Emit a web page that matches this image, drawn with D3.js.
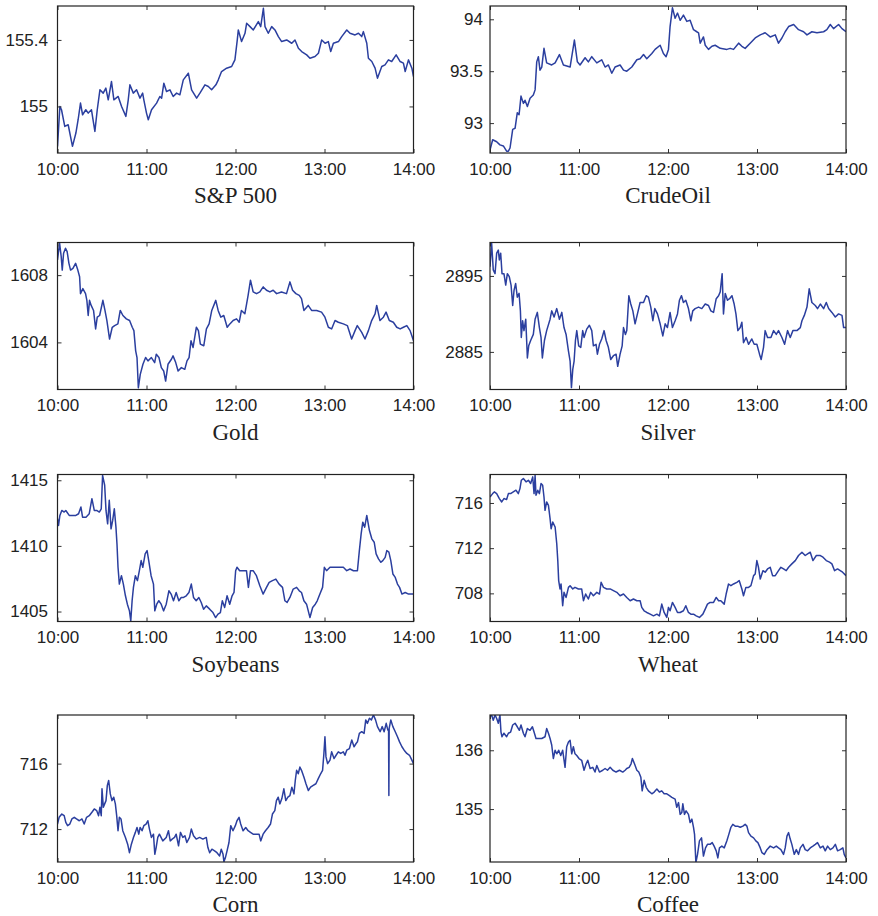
<!DOCTYPE html>
<html lang="en">
<head>
<meta charset="UTF-8">
<title>Intraday prices</title>
<script src="https://d3js.org/d3.v7.min.js"></script>
<style>
    body {
        margin: 0;
        background: #fff;
    }
    .axis text {
        font: 17px 'Liberation Sans', Arial, Helvetica, sans-serif;
        fill: #222;
    }
    .axis line {
        stroke: #333;
    }
    .frame {
        fill: none;
        stroke: #222;
        stroke-width: 1.2;
    }
    .title {
        font: 23px 'Liberation Serif', 'Times New Roman', serif;
        fill: #222;
    }
    .series {
        fill: none;
        stroke: #2b3f9f;
        stroke-width: 1.5;
        stroke-linejoin: round;
    }
</style>
</head>
<body>
<script>
// minutes after 10:00
var hourTicks = [0, 60, 120, 180, 240];
var hourLabels = ["10:00", "11:00", "12:00", "13:00", "14:00"];

var titles = ["S&P 500", "CrudeOil", "Gold", "Silver", "Soybeans", "Wheat", "Corn", "Coffee"];

var yTicks = [
    [155, 155.4],
    [93, 93.5, 94],
    [1604, 1608],
    [2885, 2895],
    [1405, 1410, 1415],
    [708, 712, 716],
    [712, 716],
    [135, 136]
];

var yRanges = [
    [154.72, 155.604],
    [92.712, 94.128],
    [1601.2, 1609.94],
    [2880.05, 2899.4],
    [1404.24, 1415.44],
    [705.51, 718.52],
    [709.99, 718.97],
    [134.1, 136.6]
];

var sp500 = [[0,154.76],[1.6,155.0],[2.7,154.98],[4.9,154.88],[7.2,154.89],[10.1,154.76],[12.4,154.84],[13.9,154.92],
    [15.5,155.02],[16.9,154.95],[19.1,154.98],[20.7,154.96],[22.9,154.98],[25.2,154.85],[26.8,154.98],[28.6,155.10],
    [30.8,155.08],[32.6,155.11],[34.2,155.04],[36.4,155.15],[38.0,155.04],[40.9,155.06],[43.2,155.00],[46.1,154.94],
    [47.7,155.04],[48.8,155.13],[51.1,155.08],[53.3,155.10],[55.6,155.05],[57.4,155.08],[58.2,155.04],[60.0,154.96],
    [61.2,154.92],[63.4,154.98],[66.8,155.02],[69.0,155.06],[70.2,155.05],[71.7,155.14],[73.5,155.09],[75.8,155.10],
    [78.0,155.06],[80.3,155.08],[82.5,155.07],[84.8,155.16],[88.2,155.20],[90.4,155.10],[93.8,155.05],[96.0,155.08],
    [99.4,155.13],[101.7,155.12],[103.9,155.10],[106.8,155.13],[108.4,155.16],[110.6,155.21],[114.0,155.23],[117.4,155.24],
    [118.5,155.26],[119.6,155.28],[121.2,155.40],[121.9,155.46],[124.1,155.39],[126.4,155.44],[127.5,155.50],[129.8,155.48],
    [132.0,155.46],[135.4,155.51],[137.0,155.48],[138.8,155.59],[139.9,155.48],[142.1,155.44],[144.4,155.48],[146.6,155.46],
    [148.9,155.42],[151.1,155.39],[154.5,155.40],[157.9,155.38],[160.1,155.40],[162.4,155.35],[164.6,155.33],[168.0,155.31],
    [170.2,155.29],[173.6,155.30],[175.9,155.32],[178.1,155.40],[180.4,155.38],[182.6,155.39],[184.2,155.33],[186.0,155.38],
    [189.4,155.39],[191.6,155.42],[195.0,155.46],[197.2,155.44],[200.6,155.43],[202.9,155.44],[205.1,155.42],[206.2,155.45],
    [208.5,155.38],[209.6,155.29],[211.9,155.27],[214.1,155.23],[215.7,155.17],[218.6,155.24],[220.8,155.25],[223.1,155.28],
    [225.3,155.27],[228.3,155.31],[231.0,155.27],[233.2,155.26],[234.4,155.21],[236.6,155.28],[238.9,155.23],[240,155.18]];

var crudeOil = [[0,92.74],[1.8,92.84],[4.5,92.82],[6.7,92.79],[9.0,92.78],[11.2,92.73],[12.4,92.73],[13.5,92.76],
    [15.3,92.94],[16.9,92.95],[18.4,93.10],[19.6,93.08],[20.9,93.26],[22.5,93.19],[23.6,93.22],[25.2,93.16],
    [27.0,93.24],[29.2,93.27],[30.4,93.32],[31.5,93.59],[32.6,93.64],[33.7,93.51],[34.9,93.54],[36.4,93.72],
    [38.2,93.58],[41.6,93.56],[43.9,93.58],[46.8,93.66],[49.5,93.56],[54.0,93.54],[56.9,93.80],[58.9,93.59],
    [60.7,93.56],[64.1,93.63],[66.3,93.59],[68.6,93.64],[72.0,93.58],[75.3,93.61],[77.6,93.54],[79.8,93.56],
    [82.1,93.48],[84.3,93.54],[87.7,93.56],[90.0,93.51],[92.2,93.50],[95.6,93.54],[99.0,93.61],[101.2,93.62],
    [103.5,93.66],[105.7,93.62],[109.1,93.67],[111.3,93.71],[114.7,93.75],[116.9,93.67],[118.7,93.64],[120.3,93.71],
    [121.4,93.93],[123.0,94.11],[124.8,94.01],[126.4,94.06],[128.2,93.99],[130.4,94.04],[132.7,93.98],[134.9,93.99],
    [137.2,93.90],[139.4,93.88],[140.6,93.87],[141.7,93.77],[143.9,93.83],[145.1,93.75],[147.3,93.71],[149.6,93.74],
    [151.8,93.75],[155.2,93.72],[159.7,93.71],[161.9,93.72],[164.2,93.71],[167.6,93.77],[169.8,93.74],[172.0,93.72],
    [175.4,93.77],[178.8,93.82],[182.2,93.85],[185.5,93.87],[188.9,93.83],[192.3,93.85],[194.5,93.77],[196.8,93.82],
    [199.0,93.88],[201.3,93.93],[204.7,93.95],[208.0,93.90],[211.4,93.88],[213.7,93.85],[217.0,93.88],[220.4,93.87],
    [224.9,93.88],[227.1,93.90],[229.4,93.95],[231.6,93.91],[235.0,93.95],[237.3,93.91],[240,93.88]];

var gold = [[0,1608.9],[1.4,1609.9],[2.5,1609.1],[3.2,1608.3],[4.1,1609.3],[5.4,1609.6],[6.5,1609.4],[7.7,1608.7],
    [8.8,1608.3],[10.4,1608.4],[12.2,1608.7],[13.7,1608.3],[14.9,1607.9],[15.5,1606.9],[17.1,1607.2],[18.9,1606.9],
    [19.8,1606.5],[20.7,1605.6],[21.6,1606.5],[22.7,1606.2],[24.3,1605.9],[25.7,1604.8],[26.8,1605.5],[28.4,1605.6],
    [30.6,1606.5],[32.0,1605.9],[33.3,1605.3],[35.1,1604.2],[36.9,1604.9],[38.5,1605.0],[40.7,1605.1],[42.3,1605.9],
    [44.1,1605.6],[46.4,1605.4],[48.6,1605.3],[50.4,1604.9],[51.5,1604.7],[52.7,1603.5],[53.6,1603.1],[54.5,1601.3],
    [55.8,1602.1],[57.6,1602.7],[59.4,1603.1],[61.0,1602.9],[63.3,1603.1],[65.5,1602.8],[66.6,1603.3],[68.4,1603.1],
    [70.0,1602.5],[71.6,1602.3],[72.9,1601.7],[74.5,1602.7],[76.8,1603.0],[77.9,1603.2],[79.7,1602.8],[81.3,1602.3],
    [83.5,1602.5],[85.8,1602.4],[87.3,1602.9],[88.7,1603.1],[90.0,1604.1],[91.4,1603.7],[93.6,1604.9],[95.0,1604.7],
    [96.3,1603.9],[98.6,1603.8],[100.4,1604.8],[102.2,1605.1],[104.0,1605.9],[106.7,1606.5],[108.3,1605.9],[110.1,1605.5],
    [112.1,1605.6],[114.4,1604.9],[116.2,1605.1],[118.4,1605.3],[120.7,1605.4],[122.5,1605.2],[124.0,1605.9],[126.3,1605.7],
    [128.5,1606.8],[130.1,1607.7],[131.9,1607.0],[134.2,1606.9],[136.4,1607.0],[138.7,1607.3],[140.9,1607.1],[143.2,1607.0],
    [145.4,1607.1],[147.7,1606.9],[151.0,1607.0],[154.4,1606.9],[156.7,1607.6],[158.5,1607.1],[160.7,1606.9],[163.0,1606.8],
    [164.5,1606.6],[166.1,1605.9],[169.0,1606.2],[171.3,1605.9],[174.7,1605.9],[178.0,1605.8],[180.3,1605.5],[182.6,1604.9],
    [184.8,1604.8],[187.1,1605.3],[189.3,1605.2],[192.7,1605.1],[195.4,1605.0],[198.3,1604.2],[200.6,1604.7],[202.1,1605.0],
    [205.1,1604.6],[207.3,1604.2],[209.6,1604.7],[211.8,1605.3],[214.1,1605.7],[215.2,1606.2],[217.4,1605.3],[219.7,1605.5],
    [221.5,1605.8],[223.7,1605.3],[226.4,1605.2],[228.7,1604.9],[231.0,1604.8],[233.2,1604.9],[235.5,1605.0],[237.7,1604.7],
    [240,1604.1]];

var silver = [[0,2896.2],[1.1,2899.3],[2.2,2895.8],[3.4,2895.3],[4.5,2898.0],[5.6,2898.4],[6.3,2897.1],[7.2,2898.0],
    [8.1,2895.3],[9.4,2895.3],[10.6,2893.8],[11.7,2895.3],[13.0,2894.9],[14.2,2893.8],[15.3,2891.1],[16.2,2893.1],
    [17.3,2894.0],[18.4,2892.2],[19.6,2892.7],[20.5,2890.4],[21.1,2886.9],[22.0,2889.1],[22.9,2887.8],[24.1,2889.3],
    [25.2,2884.2],[26.1,2885.8],[27.4,2886.5],[29.2,2887.3],[30.4,2889.3],[31.9,2890.2],[33.3,2888.2],[34.4,2886.9],
    [35.3,2884.2],[36.7,2886.5],[38.2,2887.8],[40.5,2889.3],[41.6,2890.4],[43.2,2889.6],[45.0,2890.7],[46.8,2889.3],
    [48.4,2890.2],[49.9,2888.2],[51.3,2887.3],[52.9,2885.1],[54.0,2883.8],[54.9,2880.3],[55.8,2882.7],[56.7,2883.8],
    [57.6,2886.5],[58.5,2887.8],[59.8,2885.8],[61.2,2885.6],[62.5,2887.8],[63.4,2886.9],[65.2,2888.0],[67.0,2888.5],
    [68.6,2887.8],[69.7,2885.8],[71.5,2886.0],[72.4,2884.7],[73.8,2886.0],[75.3,2886.7],[76.9,2887.8],[78.3,2886.5],
    [79.8,2885.6],[81.4,2884.0],[83.2,2884.5],[85.0,2884.7],[86.1,2883.1],[87.7,2884.7],[89.1,2885.8],[90.0,2888.2],
    [91.3,2887.3],[92.2,2887.8],[93.6,2892.4],[94.9,2891.3],[96.3,2890.4],[97.8,2888.7],[99.4,2890.0],[101.2,2891.5],
    [103.5,2891.5],[105.3,2892.4],[106.8,2892.2],[108.4,2890.9],[109.8,2889.1],[111.1,2890.7],[112.9,2890.0],[114.7,2888.7],
    [116.5,2887.1],[118.1,2888.7],[119.6,2888.2],[121.4,2890.2],[123.0,2888.2],[124.8,2889.1],[126.4,2890.0],[127.7,2891.8],
    [129.1,2892.4],[130.4,2891.5],[132.0,2891.8],[133.8,2890.7],[135.4,2889.1],[136.7,2890.4],[138.3,2890.7],[140.6,2890.9],
    [142.8,2890.7],[145.1,2891.3],[147.3,2891.1],[148.9,2890.4],[150.7,2890.2],[152.5,2892.0],[154.1,2892.4],[155.2,2892.9],
    [156.5,2895.3],[157.4,2890.0],[158.6,2892.7],[160.1,2891.8],[161.5,2892.0],[163.1,2892.4],[164.6,2891.3],[165.8,2890.0],
    [167.1,2887.8],[168.7,2888.2],[169.8,2888.9],[170.9,2886.2],[172.7,2886.9],[174.3,2886.0],[176.5,2886.7],[178.1,2886.0],
    [179.9,2886.0],[181.7,2884.7],[182.8,2884.0],[184.4,2885.6],[185.5,2887.8],[187.1,2886.9],[189.4,2886.9],[191.2,2887.8],
    [193.0,2887.3],[194.5,2887.8],[196.8,2886.9],[198.6,2886.0],[200.6,2887.8],[202.4,2886.9],[204.2,2887.8],[206.9,2887.8],
    [209.2,2888.2],[210.3,2889.1],[211.9,2889.8],[213.7,2890.9],[215.2,2893.3],[217.0,2891.5],[219.3,2891.1],[220.8,2890.7],
    [222.7,2891.3],[224.9,2890.7],[226.7,2891.5],[228.3,2890.7],[230.5,2890.2],[232.8,2889.6],[235.0,2890.0],[237.3,2889.8],
    [238.4,2888.2],[240,2888.2]];

var soybeans = [[0,1412.07],[0.7,1411.56],[1.6,1412.32],[2.9,1412.70],[4.5,1412.58],[5.6,1412.70],[7.9,1412.32],[10.1,1412.32],
    [12.4,1412.32],[14.2,1412.45],[15.8,1412.96],[16.9,1412.19],[19.2,1412.19],[21.4,1412.45],[23.2,1413.60],[24.8,1412.70],
    [26.4,1412.70],[28.2,1412.58],[29.5,1412.83],[30.4,1415.38],[31.8,1414.62],[32.7,1412.70],[33.8,1411.68],[34.9,1413.47],
    [36.1,1411.30],[37.2,1411.94],[38.3,1412.83],[39.4,1411.43],[40.1,1410.15],[40.8,1408.37],[41.7,1407.09],[43.1,1407.73],
    [44.4,1407.09],[45.8,1406.20],[47.1,1405.56],[48.5,1405.05],[49.4,1404.29],[50.3,1405.82],[51.2,1406.84],[52.5,1407.73],
    [53.9,1407.35],[55.2,1408.11],[56.4,1408.88],[57.5,1408.37],[59.1,1409.39],[60.4,1409.64],[61.5,1408.88],[63.1,1407.73],
    [64.7,1407.09],[65.6,1405.05],[66.9,1405.56],[68.3,1405.82],[69.9,1405.56],[71.5,1405.05],[73.3,1405.56],[75.1,1406.58],
    [76.6,1406.33],[78.2,1405.82],[80.0,1406.45],[81.8,1405.82],[83.4,1406.07],[85.0,1406.07],[86.8,1406.20],[88.6,1406.45],
    [90.2,1407.09],[91.7,1406.07],[93.5,1405.82],[95.3,1406.07],[96.9,1405.69],[98.5,1405.18],[100.3,1405.43],[102.6,1405.18],
    [104.8,1404.92],[106.6,1404.54],[108.2,1404.80],[109.8,1404.92],[111.1,1405.82],[112.7,1405.31],[114.3,1406.20],[116.1,1405.56],
    [117.7,1406.20],[119.0,1406.45],[120.1,1408.11],[121.0,1408.37],[122.8,1408.11],[125.1,1408.11],[127.4,1408.11],[128.7,1406.84],
    [130.1,1408.11],[131.9,1408.11],[134.1,1407.73],[136.4,1406.96],[138.6,1406.33],[140.9,1406.84],[142.7,1407.22],[144.9,1407.35],
    [147.2,1407.47],[149.4,1407.09],[151.7,1406.84],[153.3,1405.82],[154.8,1405.69],[156.7,1406.07],[158.9,1406.71],[161.2,1406.84],
    [163.0,1406.58],[164.5,1406.45],[166.1,1405.82],[167.9,1405.56],[170.2,1404.54],[172.0,1405.31],[173.8,1405.56],[175.1,1405.82],
    [176.9,1406.33],[178.7,1406.84],[179.9,1408.37],[181.4,1408.11],[183.7,1408.37],[186.0,1408.37],[188.2,1408.37],[190.5,1408.37],
    [192.7,1408.37],[195.0,1408.11],[197.2,1408.24],[199.5,1408.11],[202.2,1408.11],[203.5,1409.64],[204.7,1410.92],[205.8,1411.81],
    [207.1,1411.43],[208.5,1412.32],[210.3,1411.17],[211.9,1410.54],[213.5,1410.28],[214.8,1409.39],[216.4,1409.01],[218.0,1408.75],
    [219.3,1408.88],[220.9,1409.13],[222.0,1409.64],[223.4,1409.52],[224.7,1408.88],[226.1,1407.86],[227.7,1407.60],[229.2,1407.09],
    [230.6,1406.84],[232.2,1406.33],[234.4,1406.45],[236.7,1406.33],[240,1406.33]];

var wheat = [[0,716.53],[1.8,716.83],[2.9,716.98],[4.5,716.83],[6.3,716.39],[7.9,716.09],[9.4,716.39],[11.2,716.30],
    [12.4,716.83],[13.9,716.83],[15.7,716.98],[17.5,717.13],[19.1,716.83],[20.2,717.27],[21.1,718.01],[22.5,718.16],
    [24.3,717.87],[25.9,718.01],[27.4,717.72],[28.8,718.31],[29.7,716.83],[30.4,718.46],[31.0,716.68],[32.2,717.13],
    [33.3,716.83],[34.4,717.72],[35.5,717.57],[36.4,716.53],[37.1,715.35],[38.2,716.09],[39.4,715.79],[40.5,714.61],
    [41.2,713.72],[42.3,714.31],[43.9,713.87],[45.0,712.39],[45.7,710.90],[46.3,709.13],[47.2,708.39],[47.9,708.83],
    [49.0,706.90],[49.9,708.09],[51.3,707.64],[52.9,708.53],[54.0,708.68],[55.8,708.39],[57.3,708.53],[59.6,708.39],
    [61.8,708.39],[63.0,707.35],[64.5,707.94],[66.3,707.50],[67.9,708.09],[69.7,707.79],[72.0,708.09],[73.8,707.94],
    [74.9,708.98],[76.5,708.53],[78.7,708.39],[81.0,708.39],[83.2,708.24],[85.5,708.09],[87.7,707.79],[90.0,707.94],
    [92.2,707.64],[94.5,707.35],[96.7,707.50],[99.0,707.35],[101.2,707.35],[102.3,706.76],[103.9,706.46],[105.7,706.31],
    [108.0,706.16],[110.2,706.01],[112.5,706.16],[114.2,706.01],[115.8,707.05],[117.4,706.31],[119.2,705.87],[120.3,706.76],
    [121.4,706.46],[123.0,707.20],[124.8,706.76],[126.4,706.31],[128.2,706.31],[130.4,706.46],[132.0,706.90],[133.8,706.31],
    [135.4,706.16],[137.2,706.16],[139.0,706.01],[141.2,705.87],[143.5,706.16],[145.1,706.61],[146.6,707.05],[148.4,707.20],
    [150.7,707.20],[152.5,707.64],[154.1,707.35],[155.6,707.35],[157.9,707.05],[159.2,707.94],[160.8,708.83],[162.4,708.68],
    [164.2,708.83],[166.4,708.98],[168.0,709.13],[169.8,708.39],[170.9,707.79],[172.5,708.53],[174.3,708.53],[175.9,708.68],
    [177.7,709.57],[178.8,709.72],[179.9,710.90],[181.0,710.31],[182.2,709.27],[184.0,710.01],[185.5,709.87],[187.1,710.16],
    [188.9,710.31],[190.5,709.57],[192.3,709.57],[194.5,710.01],[196.1,710.31],[197.9,710.16],[199.7,710.01],[201.3,710.31],
    [203.5,710.61],[205.8,710.90],[208.0,711.35],[210.3,711.64],[212.5,711.35],[214.1,711.50],[215.9,711.64],[217.7,710.90],
    [220.0,711.35],[222.7,711.35],[224.5,711.20],[226.7,710.90],[228.9,710.76],[230.5,710.61],[232.3,710.01],[234.3,710.16],
    [236.1,710.01],[237.7,709.87],[240,709.57]];

var corn = [[0,712.31],[1.1,712.72],[2.9,712.92],[4.5,712.82],[5.6,712.41],[6.8,712.21],[8.3,712.31],[9.7,712.62],
    [11.3,712.72],[12.8,712.62],[14.7,712.51],[16.5,712.62],[18.0,712.31],[19.6,712.72],[21.4,712.82],[23.2,713.03],
    [24.8,713.23],[26.4,713.13],[27.7,712.82],[28.6,713.33],[29.5,712.82],[30.0,714.46],[30.9,713.33],[31.8,713.54],
    [32.7,713.74],[33.6,714.67],[34.5,714.97],[35.6,714.15],[36.7,713.74],[37.9,713.95],[39.0,713.54],[39.9,712.82],
    [40.8,711.90],[41.7,712.72],[42.8,712.62],[44.0,711.90],[45.8,711.49],[47.3,711.08],[48.5,710.56],[49.8,711.08],
    [51.2,711.49],[52.5,711.80],[53.6,712.10],[54.8,711.69],[55.7,712.10],[57.0,711.90],[58.2,712.21],[59.7,712.31],
    [60.9,712.51],[62.0,712.00],[63.3,711.49],[64.7,711.69],[65.6,710.46],[66.5,710.87],[67.6,711.49],[68.7,711.69],
    [71.0,711.28],[73.3,711.49],[74.8,711.90],[76.0,711.28],[77.3,711.39],[78.9,711.49],[80.0,711.69],[81.6,710.98],
    [82.9,711.80],[84.5,711.49],[85.9,711.59],[87.2,711.18],[89.0,711.49],[90.2,712.00],[91.7,711.59],[93.5,711.39],
    [95.8,711.49],[98.0,711.39],[100.3,711.49],[101.4,710.87],[102.6,710.56],[104.1,710.77],[105.9,710.67],[107.5,710.56],
    [109.3,710.36],[110.4,710.77],[111.6,710.46],[112.2,710.0],[113.2,710.26],[114.3,710.67],[115.6,711.18],[116.8,712.21],
    [118.3,711.90],[119.9,712.21],[121.0,712.51],[122.4,712.72],[123.5,712.31],[125.1,711.90],[126.9,712.10],[128.5,711.90],
    [130.1,711.80],[131.9,711.69],[134.1,711.69],[135.9,711.69],[137.0,711.28],[138.6,711.69],[140.2,711.90],[142.0,712.10],
    [143.6,712.31],[144.9,712.92],[146.5,713.13],[147.6,713.74],[148.8,713.95],[149.9,713.54],[151.2,713.85],[152.6,714.46],
    [153.9,713.74],[155.3,713.95],[156.7,714.05],[158.0,714.56],[159.4,714.15],[160.3,714.97],[161.2,715.59],[162.3,715.38],
    [163.4,715.79],[164.5,715.59],[166.1,715.18],[167.5,714.77],[169.1,714.36],[170.6,714.56],[172.4,714.67],[174.2,714.77],
    [175.8,715.08],[177.4,715.38],[178.7,715.59],[179.6,716.62],[180.3,717.64],[181.0,716.41],[182.1,716.00],[183.7,716.21],
    [184.8,716.72],[186.4,716.31],[187.8,716.51],[189.3,716.72],[190.9,716.62],[192.7,716.72],[193.8,716.51],[195.0,716.82],
    [196.8,716.92],[198.4,717.44],[199.9,717.03],[201.3,717.23],[202.2,717.33],[203.5,717.85],[205.1,717.95],[206.7,717.85],
    [207.8,718.67],[208.9,718.46],[210.3,718.77],[211.6,718.67],[213.0,718.97],[214.4,718.67],[215.7,718.26],[217.5,717.95],
    [218.9,718.26],[220.2,717.95],[221.6,718.46],[222.7,718.05],[223.2,718.05],[223.4,714.05],[223.6,718.15],[224.7,718.67],
    [226.1,718.26],[227.7,717.95],[229.2,717.64],[230.6,717.33],[232.2,717.03],[233.7,716.82],[235.5,716.62],[237.3,716.51],
    [238.9,716.21],[240,716.00]];

var coffee = [[0,136.57],[1.1,136.60],[2.2,136.51],[3.4,136.60],[4.5,136.54],[5.6,136.46],[6.7,136.60],[7.4,136.31],
    [8.1,136.23],[9.4,136.29],[11.2,136.23],[12.4,136.29],[13.9,136.31],[15.3,136.43],[16.9,136.46],[18.4,136.40],
    [19.8,136.34],[20.9,136.43],[22.5,136.29],[23.6,136.23],[25.2,136.37],[27.0,136.34],[28.6,136.40],[29.7,136.31],
    [31.0,136.20],[32.6,136.20],[34.9,136.20],[37.1,136.23],[38.2,136.37],[39.4,136.29],[40.5,136.20],[41.6,136.09],
    [42.7,135.86],[43.9,136.00],[45.0,135.94],[46.3,136.00],[47.7,135.91],[49.0,136.00],[50.6,135.71],[51.7,136.06],
    [52.9,136.14],[54.0,136.17],[55.1,135.94],[56.2,136.06],[57.3,135.94],[58.5,135.91],[60.0,135.86],[61.8,135.83],
    [63.4,135.66],[64.8,135.77],[65.9,135.83],[67.5,135.69],[69.3,135.71],[70.8,135.63],[72.0,135.74],[73.8,135.63],
    [76.0,135.66],[77.6,135.69],[79.2,135.66],[81.0,135.71],[82.8,135.66],[85.0,135.63],[87.3,135.66],[89.5,135.63],
    [91.1,135.66],[92.2,135.69],[93.8,135.71],[95.1,135.77],[96.0,135.86],[97.4,135.77],[99.0,135.66],[100.3,135.63],
    [101.7,135.54],[102.6,135.31],[103.9,135.49],[105.3,135.37],[106.8,135.31],[109.1,135.26],[110.7,135.29],[112.5,135.34],
    [114.2,135.29],[115.8,135.31],[117.4,135.26],[119.2,135.26],[121.0,135.23],[122.6,135.20],[124.8,135.17],[125.9,135.03],
    [127.1,135.11],[128.2,134.91],[129.3,134.94],[130.0,135.09],[131.1,134.91],[132.2,134.97],[133.8,134.91],[134.9,134.77],
    [136.1,134.83],[137.2,134.69],[137.9,134.57],[138.8,134.09],[139.9,134.23],[141.2,134.46],[142.6,134.51],[143.9,134.20],
    [145.3,134.34],[146.6,134.40],[148.4,134.40],[149.8,134.43],[151.1,134.37],[152.5,134.29],[153.6,134.17],[154.7,134.34],
    [156.3,134.37],[157.9,134.34],[159.7,134.46],[161.0,134.57],[162.4,134.69],[163.7,134.74],[165.3,134.71],[166.9,134.71],
    [168.7,134.69],[170.5,134.71],[172.0,134.74],[173.2,134.71],[174.3,134.60],[175.9,134.54],[177.7,134.51],[179.2,134.46],
    [180.6,134.43],[182.2,134.34],[183.3,134.26],[184.9,134.23],[186.7,134.31],[188.9,134.37],[191.2,134.34],[193.0,134.37],
    [194.5,134.34],[196.1,134.31],[197.9,134.23],[199.0,134.34],[200.2,134.54],[201.3,134.60],[202.4,134.49],[203.5,134.40],
    [205.1,134.23],[206.5,134.31],[208.0,134.23],[209.2,134.34],[211.0,134.40],[212.5,134.31],[214.1,134.29],[215.9,134.34],
    [217.7,134.37],[219.3,134.40],[220.8,134.43],[222.7,134.34],[224.5,134.37],[226.0,134.29],[227.6,134.37],[229.4,134.31],
    [231.2,134.34],[232.8,134.40],[234.3,134.29],[236.1,134.31],[237.9,134.34],[238.8,134.23],[240,134.17]];

var seriesList = [sp500, crudeOil, gold, silver, soybeans, wheat, corn, coffee];

var colLeft = [57.5, 490];
var rowTop = [6, 242.5, 474.5, 715];
var plotW = 356,
    plotH = 147;

var svg = d3.select("body").append("svg")
    .attr("width", 878)
    .attr("height", 916);

seriesList.forEach(function(data, i) {
    var left = colLeft[i % 2],
        top = rowTop[Math.floor(i / 2)];

    var x = d3.scaleLinear().domain([0, 240]).range([0, plotW]);
    var y = d3.scaleLinear().domain(yRanges[i]).range([plotH, 0]);

    var g = svg.append("g").attr("transform", "translate(" + left + "," + top + ")");

    g.append("clipPath").attr("id", "clip" + i)
        .append("rect").attr("width", plotW).attr("height", plotH);

    var line = d3.line()
        .x(function(d) { return x(d[0]); })
        .y(function(d) { return y(d[1]); });

    g.append("path")
        .datum(data)
        .attr("class", "series")
        .attr("clip-path", "url(#clip" + i + ")")
        .attr("d", line);

    // inward ticks on all four sides, labels only left and bottom
    var fmt = function(d, k) { return hourLabels[k]; };

    g.append("g").attr("class", "axis")
        .attr("transform", "translate(0," + plotH + ")")
        .call(d3.axisBottom(x).tickValues(hourTicks).tickFormat(fmt).tickSize(-4).tickPadding(9.5))
        .call(function(s) { s.select(".domain").remove(); });

    g.append("g").attr("class", "axis")
        .call(d3.axisTop(x).tickValues(hourTicks).tickFormat("").tickSize(-4))
        .call(function(s) { s.select(".domain").remove(); });

    g.append("g").attr("class", "axis")
        .call(d3.axisLeft(y).tickValues(yTicks[i]).tickFormat(function(d) { return d; })
            .tickSize(-4).tickPadding(i % 2 ? 7 : 9.5))
        .call(function(s) { s.select(".domain").remove(); });

    g.append("g").attr("class", "axis")
        .attr("transform", "translate(" + plotW + ",0)")
        .call(d3.axisRight(y).tickValues(yTicks[i]).tickFormat("").tickSize(-4))
        .call(function(s) { s.select(".domain").remove(); });

    g.append("rect")
        .attr("class", "frame")
        .attr("width", plotW)
        .attr("height", plotH);

    g.append("text")
        .attr("class", "title")
        .attr("x", plotW / 2)
        .attr("y", plotH + 50)
        .attr("text-anchor", "middle")
        .text(titles[i]);
});
</script>
</body>
</html>
